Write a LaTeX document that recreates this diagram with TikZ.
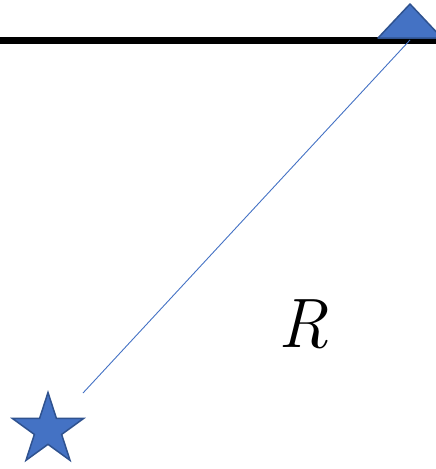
\documentclass[tikz,border=0pt]{standalone}
\usepackage{tikz}
\usepackage{xcolor}
\usetikzlibrary{positioning, shapes.geometric}
\definecolor{OffBlue}{RGB}{68,114,196}
\definecolor{OffBlueDark}{RGB}{47,82,143}
\begin{document}
\begin{tikzpicture}[
  x=1pt, y=-1pt,
  ground/.style={line width=7pt, black},
  ray/.style={line width=0.9pt, OffBlue},
  sensor/.style={fill=OffBlue, draw=OffBlueDark, line width=1.5pt, line join=round},
  source/.style={star, star points=5, star point ratio=2.618, minimum size=75pt, inner sep=0pt, fill=OffBlue, draw=OffBlueDark, line width=1.5pt},
  dist/.style={font=\fontsize{70}{70}\selectfont\itshape, inner sep=0pt}
]
\useasboundingbox (0,0) rectangle (436,469);

% Surface line
\coordinate (left) at (0,40);
\coordinate (right) at (436,40);
\draw[ground] (left) -- (right);

% Receiver (triangle on the surface)
\coordinate (apex) at (410,4);
\coordinate (baseL) at (378,38);
\coordinate (baseR) at (442,38);
\coordinate (recv) at (410,40);
\draw[sensor] (baseL) -- (apex) -- (baseR) -- cycle;

% Source (star)
\node[source] (src) at (48,430) {};
\coordinate (rayend) at (83,393);

% Ray and distance
\draw[ray] (recv) -- (rayend);
\node[dist, anchor=base] (R) at (303,347) {R};

\end{tikzpicture}
\end{document}
